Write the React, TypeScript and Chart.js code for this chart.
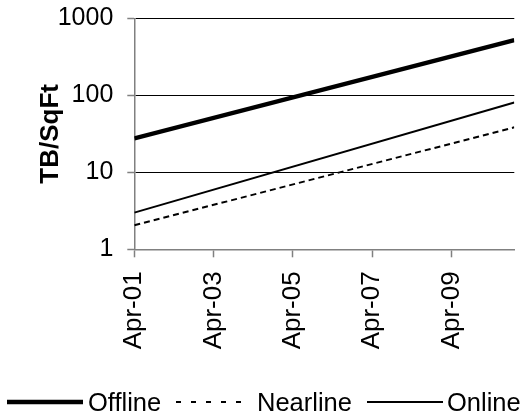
import React, { useEffect, useRef } from "react";
import { Chart, registerables } from "chart.js";

Chart.register(...registerables);

// Storage density trend, months counted from Apr-01
const xTickLabels = ["Apr-01", "Apr-03", "Apr-05", "Apr-07", "Apr-09"];
const xTickMonths = [0, 24, 48, 72, 96];
const pointMonths = [0, 115]; // Apr-01 .. Nov-10
const offline = [27.6, 523];
const nearline = [2.05, 38.5];
const online = [3.0, 81];
const yTicks = [1, 10, 100, 1000];
const seriesNames = ["Offline", "Nearline", "Online"];

const FONT = '"Liberation Sans", Arial, Helvetica, sans-serif';
const W = 532;
const H = 418;

// plot area edges
const PLOT_LEFT = 134.3;
const PLOT_RIGHT = 514.3;
const PLOT_TOP = 18.5;
const PLOT_BOTTOM = 249.3;

// legend layout (sample start, sample length, label start)
const LEGEND_Y = 402;
const LEGEND_SAMPLE_X = [7, 176, 367];
const LEGEND_SAMPLE_LEN = [76, 75, 76];
const LEGEND_TEXT_X = [88, 257, 447];

const toPoints = (vals: number[]) => vals.map((v, i) => ({ x: pointMonths[i], y: v }));

const lineLegend = {
  id: "lineLegend",
  afterDraw(chart: any) {
    const ctx: CanvasRenderingContext2D = chart.ctx;
    ctx.save();
    ctx.font = `25.5px ${FONT}`;
    ctx.textBaseline = "middle";
    ctx.textAlign = "left";
    ctx.fillStyle = "#000";
    ctx.strokeStyle = "#000";
    chart.data.datasets.forEach((ds: any, i: number) => {
      const x0 = LEGEND_SAMPLE_X[i];
      ctx.beginPath();
      ctx.lineWidth = ds.borderWidth;
      ctx.lineCap = "butt";
      ctx.setLineDash(ds.legendDash || []);
      ctx.moveTo(x0, LEGEND_Y);
      ctx.lineTo(x0 + LEGEND_SAMPLE_LEN[i], LEGEND_Y);
      ctx.stroke();
      ctx.setLineDash([]);
      ctx.fillText(ds.label, LEGEND_TEXT_X[i], LEGEND_Y + 1.5);
    });
    ctx.restore();
  },
};

const clearPadding = (scale: any) => {
  scale.paddingTop = 0;
  scale.paddingBottom = 0;
  scale.paddingLeft = 0;
  scale.paddingRight = 0;
};

export default function App() {
  const canvasRef = useRef<HTMLCanvasElement | null>(null);

  useEffect(() => {
    if (!canvasRef.current) return;
    Chart.defaults.font.family = FONT;
    Chart.defaults.color = "#000";

    const chart = new Chart(canvasRef.current, {
      type: "line",
      data: {
        datasets: [
          {
            label: seriesNames[0],
            data: toPoints(offline),
            borderColor: "#000",
            borderWidth: 4.5,
            pointRadius: 0,
            tension: 0,
          },
          {
            label: seriesNames[1],
            data: toPoints(nearline),
            borderColor: "#000",
            borderWidth: 2,
            borderDash: [6, 4],
            legendDash: [5, 10],
            pointRadius: 0,
            tension: 0,
          } as any,
          {
            label: seriesNames[2],
            data: toPoints(online),
            borderColor: "#000",
            borderWidth: 2,
            pointRadius: 0,
            tension: 0,
          },
        ],
      },
      options: {
        responsive: false,
        animation: false,
        layout: { padding: { left: 0, right: W - PLOT_RIGHT, top: PLOT_TOP, bottom: 0 } },
        plugins: {
          legend: { display: false },
          tooltip: { enabled: false },
        },
        scales: {
          x: {
            type: "linear",
            min: pointMonths[0],
            max: pointMonths[pointMonths.length - 1],
            afterBuildTicks: (scale: any) => {
              scale.ticks = xTickMonths.map((v) => ({ value: v }));
            },
            afterFit: (scale: any) => {
              scale.height = H - PLOT_BOTTOM;
              clearPadding(scale);
            },
            ticks: {
              autoSkip: false,
              minRotation: 90,
              maxRotation: 90,
              padding: 14,
              font: { size: 26 },
              color: "#000",
              callback: (v: any) => {
                const i = xTickMonths.indexOf(Number(v));
                return i >= 0 ? xTickLabels[i] : "";
              },
            },
            grid: {
              display: true,
              drawOnChartArea: false,
              drawTicks: true,
              tickLength: 8,
              tickColor: "#808080",
              tickWidth: 1.5,
            },
            border: { display: true, color: "#808080", width: 1.5 },
          },
          y: {
            type: "logarithmic",
            min: 1,
            max: 1000,
            afterBuildTicks: (scale: any) => {
              scale.ticks = yTicks.map((v) => ({ value: v }));
            },
            afterFit: (scale: any) => {
              scale.width = PLOT_LEFT;
              clearPadding(scale);
            },
            ticks: {
              padding: 14,
              font: { size: 25 },
              color: "#000",
              callback: (v: any) => String(v),
            },
            grid: {
              color: (ctx: any) => (ctx.tick && ctx.tick.value === 1 ? "#808080" : "#000"),
              lineWidth: 1,
              drawTicks: true,
              tickLength: 7,
              tickColor: "#808080",
              tickWidth: 1.5,
            },
            border: { display: true, color: "#808080", width: 1.5 },
            title: {
              display: true,
              text: "TB/SqFt",
              font: { size: 26, weight: "bold" },
              color: "#000",
              padding: { top: 35, bottom: 0 },
            },
          },
        },
      },
      plugins: [lineLegend],
    });

    return () => chart.destroy();
  }, []);

  return (
    <div style={{ position: "absolute", left: 0, top: 0, width: W, height: H, background: "#fff" }}>
      <canvas ref={canvasRef} width={W} height={H} style={{ display: "block" }} />
    </div>
  );
}
